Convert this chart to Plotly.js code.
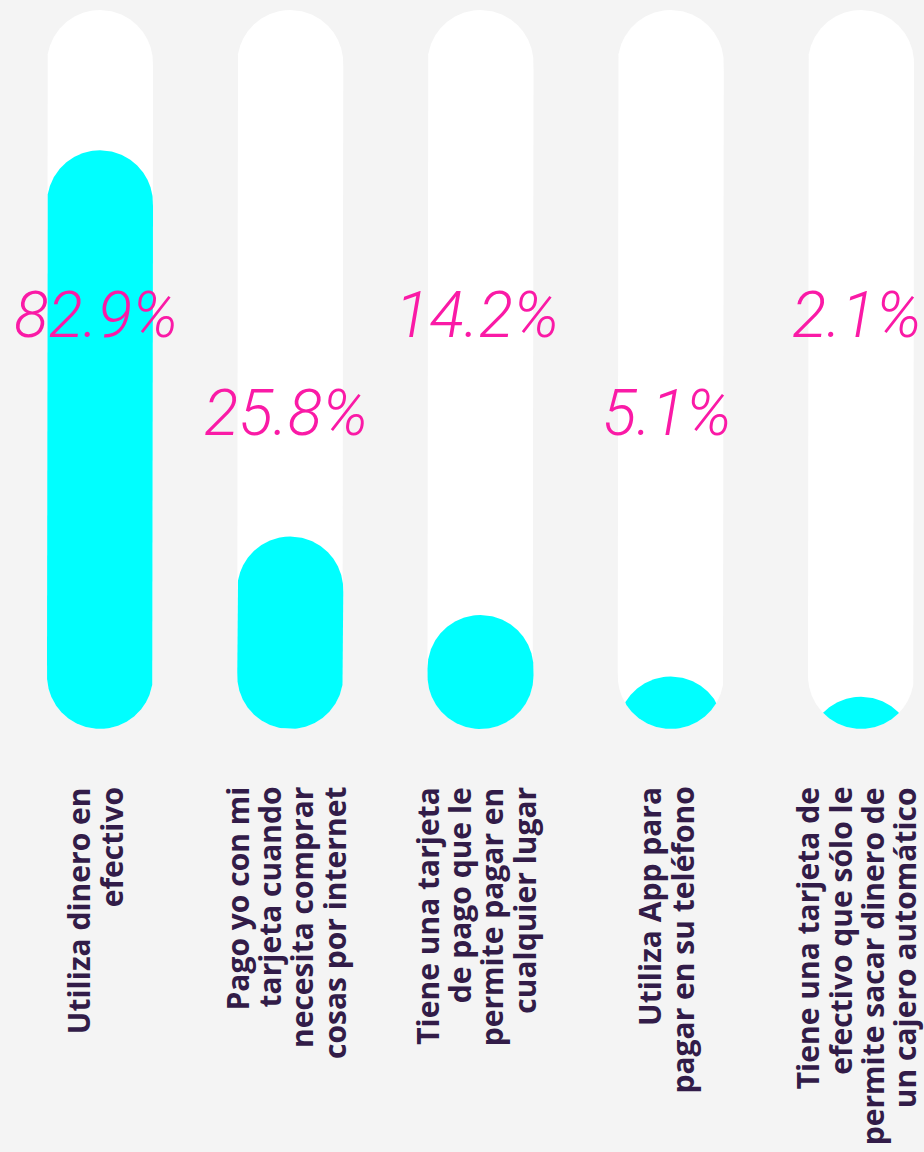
<!DOCTYPE html>
<html>
<head>
<meta charset="utf-8">
<script src="https://cdn.plot.ly/plotly-3.0.1.min.js"></script>
<style>
  html, body { margin: 0; padding: 0; background: #f4f4f4; }
  #chart { width: 924px; height: 1152px; }
</style>
</head>
<body>
<div id="chart"></div>
<script>
// ---- data ----
const categories = [
  "Utiliza dinero en<br>efectivo",
  "Pago yo con mi<br>tarjeta cuando<br>necesita comprar<br>cosas por internet",
  "Tiene una tarjeta<br>de pago que le<br>permite pagar en<br>cualquier lugar",
  "Utiliza App para<br>pagar en su teléfono",
  "Tiene una tarjeta de<br>efectivo que sólo le<br>permite sacar dinero de<br>un cajero automático"
];
const values = [82.9, 25.8, 14.2, 5.1, 2.1];
const valueLabels = ["82.9%", "25.8%", "14.2%", "5.1%", "2.1%"];

// ---- layout constants ----
const W = 924, H = 1152;
const PLOT_H = 740;
const X_RANGE = [-0.5256, 4.3311];
const Y_RANGE = [-4.288, 105.13];
const TRACK_MIN = -2.66, TRACK_MAX = 103.65;
const BAR_PX = 106, R = BAR_PX / 2;
const PXX = W / (X_RANGE[1] - X_RANGE[0]);
const PXY = PLOT_H / (Y_RANGE[1] - Y_RANGE[0]);

const COL_BG = "#f4f4f4", COL_TRACK = "#ffffff", COL_FILL = "#00ffff";
const COL_PCT = "#fa1aa6", COL_LBL = "#321c48";

function ypx(v) { return (Y_RANGE[1] - v) * PXY; }
function yval(p) { return Y_RANGE[1] - p / PXY; }

function pillHW(y, top, bot) {
  if (y < top || y > bot) return 0;
  if (y < top + R) { const d = top + R - y; return Math.sqrt(Math.max(0, R * R - d * d)); }
  if (y > bot - R) { const d = y - (bot - R); return Math.sqrt(Math.max(0, R * R - d * d)); }
  return R;
}

function shapeTrace(i, top, bot, hwFn, color) {
  const xs = [], ys = [], xl = [], yl = [];
  const step = 0.25;
  for (let y = top; y <= bot + 1e-9; y += step) {
    const hw = hwFn(y);
    xs.push(i + hw / PXX); ys.push(yval(y));
    xl.push(i - hw / PXX); yl.push(yval(y));
  }
  xl.reverse(); yl.reverse();
  return {
    type: "scatter", mode: "lines", x: xs.concat(xl), y: ys.concat(yl),
    fill: "toself", fillcolor: color, line: { width: 0, color: color },
    hoverinfo: "skip", showlegend: false
  };
}

const traces = [];
const tTop = ypx(TRACK_MAX), tBot = ypx(TRACK_MIN);
values.forEach((v, i) => {
  traces.push(shapeTrace(i, tTop, tBot, y => pillHW(y, tTop, tBot), COL_TRACK));
});
values.forEach((v, i) => {
  const cTop = ypx(v);
  const cBot = Math.max(tBot, cTop + 2 * R);
  traces.push(shapeTrace(i, cTop, tBot,
    y => Math.min(pillHW(y, tTop, tBot), pillHW(y, cTop, cBot)), COL_FILL));
});

const annotations = [];
// percentage labels (alternating heights)
const pctY = [315, 413];
valueLabels.forEach((t, i) => {
  annotations.push({
    x: i, xref: "x", xshift: -4, y: 1 - pctY[i % 2] / PLOT_H, yref: "paper",
    text: t, showarrow: false, xanchor: "center", yanchor: "middle",
    font: { family: "Roboto, sans-serif", size: 64, color: COL_PCT, style: "italic", weight: 300 }
  });
});
// category labels, one annotation per line, rotated
const LINE_GAP = 32.5;
categories.forEach((c, i) => {
  const lines = c.split("<br>");
  const n = lines.length;
  lines.forEach((ln, k) => {
    annotations.push({
      x: i, xref: "x", xshift: (k - (n - 1) / 2) * LINE_GAP - 5,
      y: 0, yref: "paper", yshift: -(785 - PLOT_H),
      text: ln, showarrow: false, textangle: -90,
      xanchor: "center", yanchor: "top",
      font: { family: "Open Sans, sans-serif", size: 30, color: COL_LBL, weight: 700 }
    });
  });
});

const layout = {
  width: W, height: H,
  margin: { l: 0, r: 0, t: 0, b: H - PLOT_H, pad: 0 },
  paper_bgcolor: COL_BG, plot_bgcolor: COL_BG,
  xaxis: { range: X_RANGE, visible: false, fixedrange: true },
  yaxis: { range: Y_RANGE, visible: false, fixedrange: true },
  showlegend: false, annotations: annotations
};

Plotly.newPlot("chart", traces, layout, { displayModeBar: false, staticPlot: true });
</script>
</body>
</html>
